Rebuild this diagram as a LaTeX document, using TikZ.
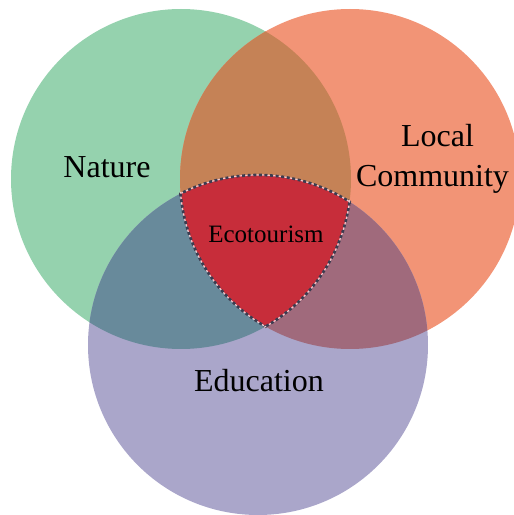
\documentclass[tikz,border=0pt]{standalone}
\usepackage{fontspec}
\setmainfont{Liberation Serif}
\usepackage{xcolor}
\usetikzlibrary{positioning,calc}

\definecolor{natgreen}{HTML}{95D2AE}
\definecolor{locorange}{HTML}{F29476}
\definecolor{edupurple}{HTML}{AAA6CA}
\definecolor{natloc}{HTML}{C58256}
\definecolor{natedu}{HTML}{688A9B}
\definecolor{locedu}{HTML}{A06A7C}
\definecolor{ecored}{HTML}{C72D3A}
\definecolor{dashgrey}{HTML}{3C3C50}

\tikzset{
    biglabel/.style={font=\fontsize{32}{40}\selectfont, inner sep=0pt},
    smalllabel/.style={font=\fontsize{25}{30}\selectfont, inner sep=0pt},
    ecogap/.style={draw=white!75!ecored, line width=1.2pt},
    ecoborder/.style={draw=dashgrey, line width=2.6pt, dash pattern=on 3pt off 2.6pt}
}

\begin{document}
\begin{tikzpicture}[x=1pt, y=1pt]
    \useasboundingbox (0,0) rectangle (514,515);
    \clip (0,0) rectangle (514,515);

    \coordinate (nat) at (181,336);
    \coordinate (loc) at (350,336);
    \coordinate (edu) at (258,170);
    \def\rad{170}
    \def\radx{171.5}

    % single circles
    \fill[natgreen] (nat) circle (\rad);
    \fill[locorange] (loc) circle (\rad);
    \fill[edupurple] (edu) circle (\rad);

    % pairwise overlaps
    \begin{scope}
        \clip (nat) circle (\rad);
        \fill[natloc] (loc) circle (\rad);
        \fill[natedu] (edu) circle (\rad);
    \end{scope}
    \begin{scope}
        \clip (loc) circle (\rad);
        \fill[locedu] (edu) circle (\rad);
    \end{scope}

    % centre
    \begin{scope}
        \clip (nat) circle (\rad);
        \clip (loc) circle (\rad);
        \fill[ecored] (edu) circle (\rad);
    \end{scope}

    % dashed border of the centre
    \begin{scope}
        \clip (nat) circle (\radx);
        \clip (loc) circle (\radx);
        \draw[ecogap] (edu) circle (\rad);
        \draw[ecoborder] (edu) circle (\rad);
    \end{scope}
    \begin{scope}
        \clip (nat) circle (\radx);
        \clip (edu) circle (\radx);
        \draw[ecogap] (loc) circle (\rad);
        \draw[ecoborder] (loc) circle (\rad);
    \end{scope}
    \begin{scope}
        \clip (loc) circle (\radx);
        \clip (edu) circle (\radx);
        \draw[ecogap] (nat) circle (\rad);
        \draw[ecoborder] (nat) circle (\rad);
    \end{scope}

    % labels
    \node[biglabel] (natlabel) at (107,348) {Nature};
    \node[biglabel, anchor=base] (loclabel) at (437.5,368) {Local};
    \node[biglabel, anchor=base] (comlabel) at (432.5,328) {Community};
    \node[biglabel] (edulabel) at (259,134) {Education};
    \node[smalllabel] (ecolabel) at (266,281) {Ecotourism};
\end{tikzpicture}
\end{document}
